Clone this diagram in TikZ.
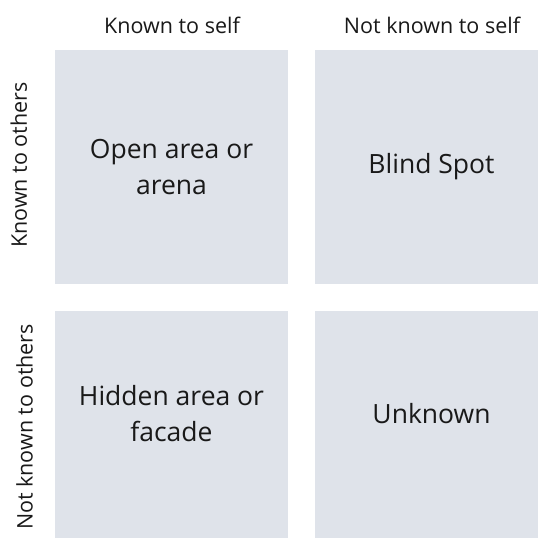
\documentclass[tikz,border=0pt]{standalone}
\usepackage{fontspec}
\setmainfont{Open Sans}
\definecolor{boxfill}{RGB}{223,227,234}
\definecolor{ink}{RGB}{25,25,25}
\begin{document}
\begin{tikzpicture}[x=1pt,y=-1pt,
  quad/.style={fill=boxfill,draw=none,minimum width=233pt,minimum height=234pt,inner sep=0pt},
  qtext/.style={text=ink,align=center,font=\fontsize{26.5}{36}\selectfont,inner sep=0pt},
  axis/.style={text=ink,font=\fontsize{21.5}{24}\selectfont,inner sep=0pt}]
\useasboundingbox (0,0) rectangle (538,538);
\clip (0,0) rectangle (538,538);
\node[quad] (tl) at (171.5,167) {};
\node[quad] (tr) at (431.5,167) {};
\node[quad] (bl) at (171.5,428) {};
\node[quad] (br) at (431.5,428) {};
\node[qtext] (tlt) at (171.5,167) {Open area or\\arena};
\node[qtext] (trt) at (431.5,167) {Blind Spot};
\node[qtext] (blt) at (171.5,414) {Hidden area or\\facade};
\node[qtext] (brt) at (431.5,414) {Unknown};
\node[axis,anchor=base] (ks) at (172,33) {Known to self};
\node[axis,anchor=base] (nks) at (432,33) {Not known to self};
\node[axis,rotate=90,anchor=base] (ko) at (27,165) {Known to others};
\node[axis,rotate=90,anchor=base] (nko) at (32.5,427) {Not known to others};
\end{tikzpicture}
\end{document}
